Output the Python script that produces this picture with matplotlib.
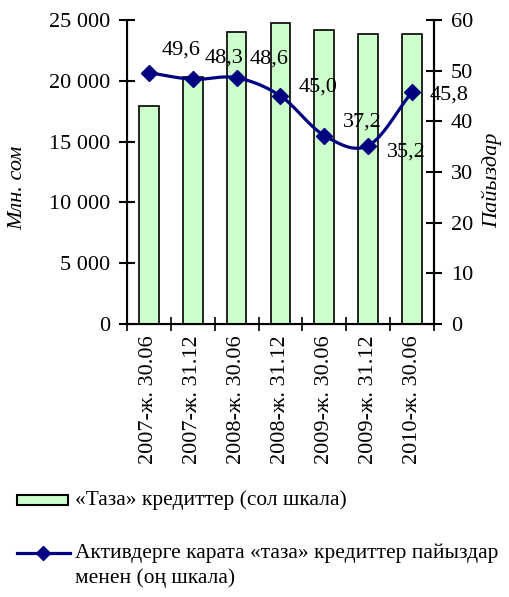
import numpy as np
import matplotlib
matplotlib.use('Agg')
import matplotlib.pyplot as plt
from matplotlib.lines import Line2D
from matplotlib.patches import Rectangle

plt.rcParams['font.family'] = ['Liberation Serif', 'DejaVu Serif']

# data
dates = ['2007-ж. 30.06', '2007-ж. 31.12', '2008-ж. 30.06', '2008-ж. 31.12',
         '2009-ж. 30.06', '2009-ж. 31.12', '2010-ж. 30.06']
net_loans = [17900, 20300, 24000, 24750, 24150, 23850, 23850]
loan_share = [49.6, 48.3, 48.6, 45.0, 37.2, 35.2, 45.8]
share_labels = ['49,6', '48,3', '48,6', '45,0', '37,2', '35,2', '45,8']
label_offsets = [(32, 23), (31, 21), (32, 19), (38, 9), (38, 13), (38, -6), (37, -3)]

bar_color = '#CCFFCC'
line_color = '#000080'
fs = 16
legend_fs = 15.4


def smooth(xs, ys, n=20):
    # catmull-rom curve through the points, like the smoothed line in the original
    xs = np.asarray(xs, float)
    ys = np.asarray(ys, float)
    px = np.concatenate([[2 * xs[0] - xs[1]], xs, [2 * xs[-1] - xs[-2]]])
    py = np.concatenate([[2 * ys[0] - ys[1]], ys, [2 * ys[-1] - ys[-2]]])
    out_x, out_y = [], []
    for i in range(1, len(px) - 2):
        t = np.linspace(0, 1, n, endpoint=False)
        for p, out in ((px, out_x), (py, out_y)):
            p0, p1, p2, p3 = p[i - 1], p[i], p[i + 1], p[i + 2]
            out.extend(0.5 * (2 * p1 + (-p0 + p2) * t + (2 * p0 - 5 * p1 + 4 * p2 - p3) * t ** 2
                              + (-p0 + 3 * p1 - 3 * p2 + p3) * t ** 3))
    out_x.append(xs[-1])
    out_y.append(ys[-1])
    return out_x, out_y


W, H = 509, 597
fig = plt.figure(figsize=(W / 100, H / 100), dpi=100)
ax = fig.add_axes([0.2495, 0.4573, 0.6031, 0.5092])
x = np.arange(len(dates))

ax.bar(x, net_loans, width=0.45, color=bar_color, edgecolor='black', linewidth=1.2, zorder=2)
ax.set_xlim(-0.5, len(dates) - 0.5)
ax.set_ylim(0, 25000)
ax.set_yticks(np.arange(0, 25001, 5000))
ax.set_yticklabels([f'{v:,}'.replace(',', ' ') for v in range(0, 25001, 5000)])
ax.set_xticks(x)
ax.set_xticklabels(dates, rotation=90)
ax.set_xticks(np.arange(-0.5, len(dates), 1), minor=True)
ax.tick_params(axis='x', which='major', length=0, labelsize=fs, pad=8)
ax.tick_params(axis='x', which='minor', direction='inout', length=10, width=1.2)
ax.tick_params(axis='y', direction='inout', length=12, width=1.5, labelsize=fs, pad=6)
ax.spines['top'].set_visible(False)
for s in ['left', 'right', 'bottom']:
    ax.spines[s].set_linewidth(1.5)

ax2 = ax.twinx()
ax2.set_ylim(0, 60)
ax2.set_yticks(np.arange(0, 61, 10))
ax2.tick_params(axis='y', direction='inout', length=12, width=1.5, labelsize=fs, pad=6)
ax2.spines['top'].set_visible(False)
ax2.spines['right'].set_linewidth(1.5)
sx, sy = smooth(x, loan_share)
ax2.plot(sx, sy, color=line_color, linewidth=2.3, zorder=3)
ax2.plot(x, loan_share, linestyle='none', marker='D', markersize=8, color=line_color, zorder=4)
for xi, yi, lab, off in zip(x, loan_share, share_labels, label_offsets):
    ax2.annotate(lab, (xi, yi), xytext=off, textcoords='offset pixels',
                 ha='center', va='center', fontsize=fs)

# axis titles
fig.text(18 / W, 1 - 188 / H, 'Млн. сом', fontsize=fs, style='italic',
         rotation=90, ha='center', va='center')
fig.text(492 / W, 1 - 180 / H, 'Пайыздар', fontsize=fs, style='italic',
         rotation=90, ha='center', va='center')

# legend, drawn by hand so the line sits level with the first text row
fig.add_artist(Rectangle((17 / W, 1 - 505 / H), 51 / W, 10 / H, transform=fig.transFigure,
                         facecolor=bar_color, edgecolor='black', linewidth=1.5))
fig.text(75 / W, 1 - 500 / H, '«Таза» кредиттер (сол шкала)', fontsize=legend_fs, va='center')
fig.add_artist(Line2D([17 / W, 70 / W], [1 - 553 / H, 1 - 553 / H], transform=fig.transFigure,
                      color=line_color, linewidth=2.3))
fig.add_artist(Line2D([43 / W], [1 - 553 / H], transform=fig.transFigure, marker='D',
                      markersize=7, color=line_color))
fig.text(75 / W, 1 - 553 / H, 'Активдерге карата «таза» кредиттер пайыздар',
         fontsize=legend_fs, va='center')
fig.text(75 / W, 1 - 578 / H, 'менен (оң шкала)', fontsize=legend_fs, va='center')

fig.savefig('out.png', dpi=100)
